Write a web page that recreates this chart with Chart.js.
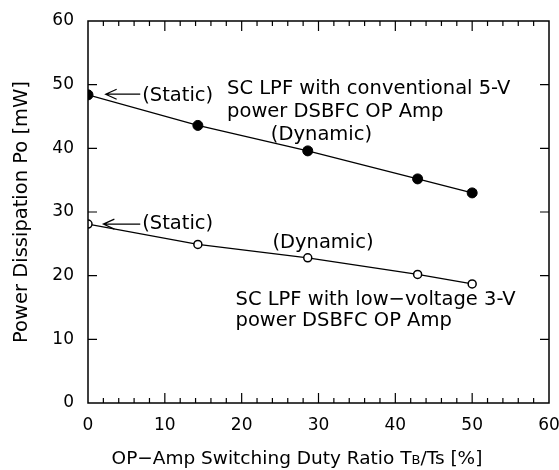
<!DOCTYPE html>
<html>
<head>
<meta charset="utf-8">
<script src="https://cdn.jsdelivr.net/npm/chart.js@4/dist/chart.umd.min.js"></script>
<style>
  html, body { margin: 0; padding: 0; background: #fff; }
  #wrap { width: 559px; height: 470px; }
</style>
</head>
<body>
<div id="wrap"><canvas id="chart"></canvas></div>
<script>
// duty ratio TB/Ts [%]
const duty = [0, 14.3, 28.6, 42.9, 50];
// power dissipation [mW]
const power5V = [48.4, 43.6, 39.6, 35.2, 33.0];
const power3V = [28.1, 24.9, 22.8, 20.2, 18.7];

const xTitle = ["OP−Amp Switching Duty Ratio T", "B", "/Ts [%]"];
const yTitle = "Power Dissipation Po [mW]";

// annotations in data units
const notes = [
  { text: "(Static)", x: 7.05, y: 48.2, arrow: [6.8, 2.3, 48.5] },
  { text: "SC LPF with conventional 5-V", x: 18.1, y: 49.3 },
  { text: "power DSBFC OP Amp", x: 18.1, y: 45.7 },
  { text: "(Dynamic)", x: 23.8, y: 42.1 },
  { text: "(Static)", x: 7.05, y: 28.1, arrow: [6.8, 2.0, 28.1] },
  { text: "(Dynamic)", x: 24.0, y: 25.1 },
  { text: "SC LPF with low−voltage 3-V", x: 19.2, y: 16.2 },
  { text: "power DSBFC OP Amp", x: 19.2, y: 12.9 }
];

const FONT = "'DejaVu Sans', sans-serif";

const frame = {
  id: "frame",
  afterDraw(chart) {
    const { ctx, chartArea: a, scales: { x, y } } = chart;
    ctx.save();
    ctx.strokeStyle = "#000";
    ctx.lineWidth = 1.5;
    ctx.strokeRect(a.left, a.top, a.right - a.left, a.bottom - a.top);

    // inward ticks
    ctx.lineWidth = 1.2;
    ctx.beginPath();
    for (let v = 2; v < 60; v += 2) {
      const px = x.getPixelForValue(v);
      const len = v % 10 === 0 ? 10 : 5;
      ctx.moveTo(px, a.bottom); ctx.lineTo(px, a.bottom - len);
      ctx.moveTo(px, a.top); ctx.lineTo(px, a.top + len);
    }
    for (let v = 10; v < 60; v += 10) {
      const py = y.getPixelForValue(v);
      ctx.moveTo(a.left, py); ctx.lineTo(a.left + 9, py);
      ctx.moveTo(a.right, py); ctx.lineTo(a.right - 9, py);
    }
    ctx.stroke();

    // annotations
    ctx.fillStyle = "#000";
    ctx.font = "19.5px " + FONT;
    ctx.textBaseline = "middle";
    ctx.textAlign = "left";
    notes.forEach(n => {
      ctx.fillText(n.text, x.getPixelForValue(n.x), y.getPixelForValue(n.y));
      if (n.arrow) {
        const x0 = x.getPixelForValue(n.arrow[0]);
        const x1 = x.getPixelForValue(n.arrow[1]);
        const py = y.getPixelForValue(n.arrow[2]);
        ctx.lineWidth = 1.2;
        ctx.beginPath();
        ctx.moveTo(x0, py); ctx.lineTo(x1, py);
        ctx.moveTo(x1 + 11, py - 5); ctx.lineTo(x1, py); ctx.lineTo(x1 + 11, py + 5);
        ctx.stroke();
      }
    });

    // x title with small-cap subscript
    const big = "18.5px " + FONT, small = "13px " + FONT;
    ctx.font = big; const w0 = ctx.measureText(xTitle[0]).width;
    const w2 = ctx.measureText(xTitle[2]).width;
    ctx.font = small; const w1 = ctx.measureText(xTitle[1]).width;
    let tx = 297 - (w0 + w1 + w2) / 2;
    const ty = 464;
    ctx.textBaseline = "alphabetic";
    ctx.font = big; ctx.fillText(xTitle[0], tx, ty); tx += w0;
    ctx.font = small; ctx.fillText(xTitle[1], tx, ty); tx += w1;
    ctx.font = big; ctx.fillText(xTitle[2], tx, ty);

    // y title
    ctx.translate(22, (a.top + a.bottom) / 2);
    ctx.rotate(-Math.PI / 2);
    ctx.textAlign = "center";
    ctx.textBaseline = "middle";
    ctx.font = "19.5px " + FONT;
    ctx.fillText(yTitle, 0, 0);
    ctx.restore();
  }
};

new Chart(document.getElementById("chart"), {
  type: "scatter",
  data: {
    datasets: [
      {
        label: "5-V",
        data: duty.map((d, i) => ({ x: d, y: power5V[i] })),
        showLine: true,
        borderColor: "#000",
        borderWidth: 1.3,
        backgroundColor: "#000",
        pointRadius: 5,
        pointBorderWidth: 1,
        pointBorderColor: "#000",
        tension: 0
      },
      {
        label: "3-V",
        data: duty.map((d, i) => ({ x: d, y: power3V[i] })),
        showLine: true,
        borderColor: "#000",
        borderWidth: 1.3,
        backgroundColor: "#fff",
        pointBackgroundColor: "#fff",
        pointRadius: 4,
        pointBorderWidth: 1.5,
        pointBorderColor: "#000",
        tension: 0
      }
    ]
  },
  options: {
    responsive: true,
    maintainAspectRatio: false,
    animation: false,
    layout: { padding: { top: 21, right: 10, left: 0, bottom: 0 } },
    plugins: { legend: { display: false }, tooltip: { enabled: false } },
    scales: {
      x: {
        type: "linear", min: 0, max: 60,
        grid: { display: false },
        border: { display: false },
        ticks: { stepSize: 10, color: "#000", font: { family: FONT, size: 17 }, padding: 4, maxRotation: 0 },
        afterFit: s => { s.height = 67; s.paddingLeft = 0; s.paddingRight = 0; }
      },
      y: {
        type: "linear", min: 0, max: 60,
        grid: { display: false },
        border: { display: false },
        ticks: { stepSize: 10, color: "#000", font: { family: FONT, size: 17 }, padding: 6 },
        afterFit: s => { s.width = 88; s.paddingTop = 0; s.paddingBottom = 0; }
      }
    }
  },
  plugins: [frame]
});
</script>
</body>
</html>
